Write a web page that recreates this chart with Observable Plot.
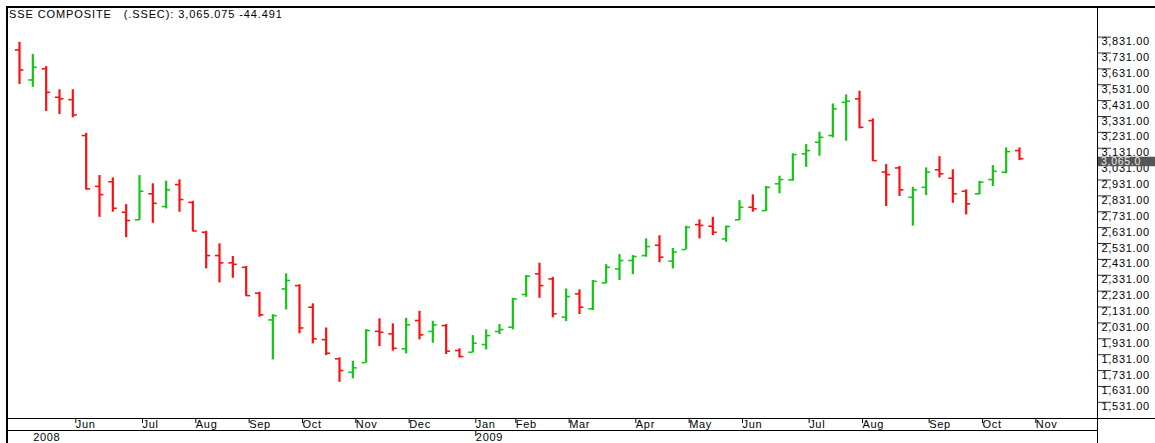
<!DOCTYPE html>
<html>
<head>
<meta charset="utf-8">
<script src="https://cdn.jsdelivr.net/npm/d3@7"></script>
<script src="https://cdn.jsdelivr.net/npm/@observablehq/plot@0.6"></script>
<style>
html, body { margin: 0; padding: 0; background: #fff; }
#wrap { position: relative; width: 1155px; height: 443px; overflow: hidden; font-family: "Liberation Sans", Arial, sans-serif; }
#chart { position: absolute; left: 0; top: 0; }
.ln { position: absolute; background: #000; }
#hdr { position: absolute; left: 9px; top: 8px; font-size: 11px; letter-spacing: 0.9px; line-height: 12px; color: #000; white-space: nowrap; }
</style>
</head>
<body>
<div id="wrap">
  <div id="chart"></div>
  <div class="ln" style="left:6px;top:6px;width:1149px;height:2px;"></div>
  <div class="ln" style="left:6px;top:6px;width:2px;height:437px;"></div>
  <div class="ln" style="left:1097px;top:8px;width:1px;height:435px;"></div>
  <div class="ln" style="left:8px;top:418px;width:1147px;height:1px;"></div>
  <div class="ln" style="left:8px;top:430px;width:1089px;height:1px;"></div>
  <div id="hdr"></div>
</div>
<script>
// ---- data (weekly OHLC, SSE Composite, May 2008 - Oct 2009) ----
const headerText = "SSE COMPOSITE\u00a0\u00a0\u00a0(.SSEC): 3,065.075 -44.491";
const lastLabel = "3,065.0";

const open  = [3750,3561,3631,3452,3437,3211,2891,2920,2728,2680,2844,2764,2902,2790,2602,2455,2409,2381,2218,2050,
               2245,2266,2130,1926,1805,1720,1781,1978,1962,1868,2046,1977,2014,1857,1846,1895,1977,2004,2210,2340,
               2308,2067,2214,2120,2283,2371,2424,2455,2520,2420,2493,2650,2640,2560,2680,2759,2738,2907,2932,3096,
               3169,3211,3420,3442,3305,2981,3007,2822,2885,2995,2942,2860,2844,2934,2980,3116];
const high  = [3798,3721,3645,3499,3499,3225,2959,2944,2776,2959,2907,2923,2932,2797,2608,2529,2449,2386,2224,2082,
               2340,2271,2151,1999,1811,1790,1989,2057,2025,2060,2104,2041,2021,1868,1951,1987,2021,2186,2329,2407,
               2318,2245,2239,2298,2398,2461,2455,2560,2580,2500,2640,2680,2696,2640,2801,2837,2890,2955,3096,3154,
               3232,3410,3467,3490,3316,3028,3016,2885,3007,3078,2995,2869,2923,3022,3133,3133];
const low   = [3532,3515,3362,3343,3322,2869,2696,2728,2568,2676,2658,2749,2728,2606,2371,2283,2312,2199,2067,1798,
               2113,1962,1899,1825,1657,1679,1777,1882,1853,1836,1924,1903,1832,1811,1842,1861,1958,1987,2192,2186,
               2063,2040,2084,2109,2277,2298,2335,2445,2410,2371,2491,2560,2581,2539,2676,2728,2732,2844,2923,3011,
               3081,3196,3175,3253,3049,2764,2827,2640,2833,2944,2784,2711,2837,2890,2970,3053];
const close = [3624,3641,3483,3442,3341,2875,2839,2753,2676,2860,2784,2869,2808,2610,2455,2409,2400,2203,2082,2077,
               2298,1999,1931,1840,1731,1748,1983,1972,1871,2019,1956,2019,1853,1819,1903,1951,1989,2182,2325,2266,
               2088,2197,2130,2293,2381,2424,2449,2512,2445,2477,2633,2645,2602,2638,2759,2749,2885,2934,3091,3116,
               3200,3379,3427,3263,3053,2965,2869,2869,2981,2970,2844,2781,2917,2986,3110,3065];

// axis ticks
const yTicks = [1531,1631,1731,1831,1931,2031,2131,2231,2331,2431,2531,2631,2731,2831,2931,3031,3131,3231,3331,3431,3531,3631,3731,3831];
const monthIdx    = [4,9,13,17,21,25,29,34,37,41,46,50,54,59,63,68,72,76];
const monthLabels = ["Jun","Jul","Aug","Sep","Oct","Nov","Dec","Jan","Feb","Mar","Apr","May","Jun","Jul","Aug","Sep","Oct","Nov"];
const yearIdx    = [0.8, 34];
const yearLabels = ["2008", "2009"];

const UP = "#11c811", DOWN = "#ff1010";

document.getElementById("hdr").textContent = headerText;

const data = open.map((o, i) => ({i, open: o, high: high[i], low: low[i], close: close[i], c: close[i] >= o ? UP : DOWN}));
const monthMap = new Map(monthIdx.map((d, k) => [d, monthLabels[k]]));
const yearMap = new Map(yearIdx.map((d, k) => [d, yearLabels[k]]));
const lastClose = close[close.length - 1];
const fmt = d3.format(",.2f");

const chart = Plot.plot({
  width: 1155,
  height: 443,
  marginLeft: 7,
  marginRight: 58,
  marginTop: 8,
  marginBottom: 25,
  x: {domain: [-0.9, 80.85], axis: null},
  y: {domain: [1429, 4011], axis: null},
  style: {fontFamily: "'Liberation Sans', Arial, sans-serif", background: "transparent", letterSpacing: "0.7px", overflow: "visible"},
  marks: [
    Plot.ruleX(data, {x: "i", y1: "low", y2: "high", stroke: "c", strokeWidth: 2.2}),
    Plot.ruleY(data, {y: "open", x1: d => d.i - 0.3, x2: "i", stroke: "c", strokeWidth: 1.6}),
    Plot.ruleY(data, {y: "close", x1: "i", x2: d => d.i + 0.33, stroke: "c", strokeWidth: 1.6}),
    Plot.axisY(yTicks, {anchor: "right", label: null, tickSize: 13, tickFormat: () => "", stroke: "#333", strokeOpacity: 1}),
    Plot.axisY(yTicks, {anchor: "right", label: null, tickSize: 0, tickPadding: 4, dy: 4.5, tickFormat: fmt, fontSize: 11, fill: "#000"}),
    Plot.axisX(monthIdx, {anchor: "bottom", label: null, tickSize: 5, tickPadding: -3, tickFormat: d => monthMap.get(d), textAnchor: "start", dx: 3, fontSize: 11, fill: "#000", stroke: "#000", strokeOpacity: 1}),
    Plot.axisX([yearIdx[1]], {anchor: "bottom", label: null, tickSize: 6, tickPadding: -3, dy: 12, tickFormat: d => yearMap.get(d), textAnchor: "start", dx: 3, fontSize: 11, fill: "#000", stroke: "#000", strokeOpacity: 1}),
    Plot.axisX([yearIdx[0]], {anchor: "bottom", label: null, tickSize: 0, tickPadding: 3, dy: 12, tickFormat: d => yearMap.get(d), textAnchor: "start", dx: 3, fontSize: 11, fill: "#000"}),
    (index, scales, values, dimensions) => {
      const yv = scales.y(lastClose);
      const x0 = dimensions.width - dimensions.marginRight + 1;
      const g = d3.create("svg:g");
      g.append("rect").attr("x", x0).attr("y", yv - 1.5).attr("width", dimensions.marginRight - 1).attr("height", 9.5).attr("fill", "#555");
      g.append("text").attr("x", x0 + 3).attr("y", yv + 3.3).attr("dy", "0.32em").attr("text-anchor", "start")
        .attr("font-size", 10.5).attr("fill", "#e8e8e8").text(lastLabel);
      return g.node();
    }
  ]
});
document.getElementById("chart").appendChild(chart);
</script>
</body>
</html>
